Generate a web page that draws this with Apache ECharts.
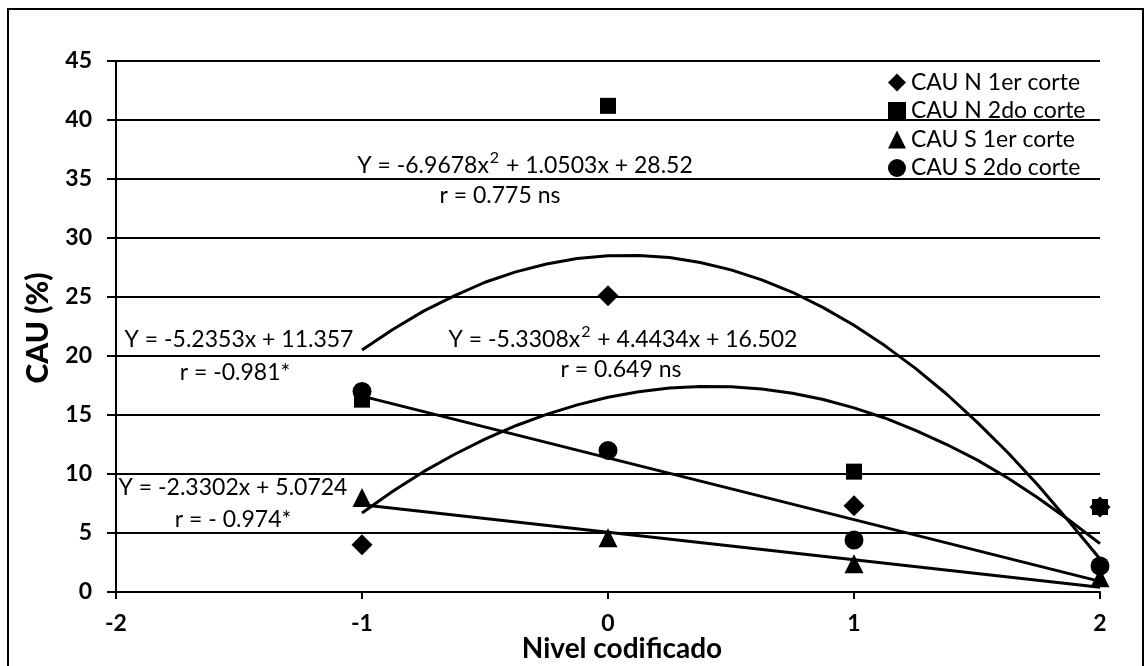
<!DOCTYPE html>
<html>
<head>
<meta charset="utf-8">
<script src="https://cdn.jsdelivr.net/npm/echarts@6/dist/echarts.min.js"></script>
<style>
html,body{margin:0;padding:0;background:#fff;}
#chart{width:1148px;height:666px;}
</style>
</head>
<body>
<div id="chart"></div>
<script>
// ---- data ----
const xLevels = [-1, 0, 1, 2];
const cauN1 = [4.0, 25.1, 7.3, 7.2];
const cauN2 = [16.3, 41.2, 10.2, 7.2];
const cauS1 = [8.0, 4.6, 2.4, 1.2];
const cauS2 = [17.0, 12.0, 4.4, 2.2];
const seriesNames = ['CAU N 1er corte', 'CAU N 2do corte', 'CAU S 1er corte', 'CAU S 2do corte'];

// trend curves (x from -1 to 2)
const curveX = [-1, -0.875, -0.75, -0.625, -0.5, -0.375, -0.25, -0.125, 0, 0.125, 0.25, 0.375, 0.5,
                0.625, 0.75, 0.875, 1, 1.125, 1.25, 1.375, 1.5, 1.625, 1.75, 1.875, 2];
const quadA = [20.5, 22.25, 23.8, 25.1, 26.25, 27.13, 27.8, 28.26, 28.5, 28.52, 28.35, 27.93, 27.3,
               26.45, 25.4, 24.1, 22.6, 20.88, 18.95, 16.8, 14.4, 11.82, 9.0, 5.96, 2.8];
const quadB = [6.7, 8.53, 10.2, 11.65, 12.95, 14.09, 15.05, 15.86, 16.5, 16.97, 17.28, 17.42, 17.39,
               17.21, 16.85, 16.31, 15.6, 14.75, 13.7, 12.52, 11.2, 9.66, 7.95, 6.08, 4.1];
const lineX = [-1, 2];
const linA = [16.6, 0.9];
const linB = [7.4, 0.4];

const eqTexts = [
  '{a|Y = -6.9678x}{s|2}{a| + 1.0503x + 28.52}', 'r = 0.775 ns',
  'Y = -5.2353x + 11.357', 'r = -0.981*',
  '{a|Y = -5.3308x}{s|2}{a| + 4.4434x + 16.502}', 'r = 0.649 ns',
  'Y = -2.3302x + 5.0724', 'r = - 0.974*'
];
const xTicks = [-2, -1, 0, 1, 2];

const FONT = 'Lato, "Open Sans", sans-serif';
const pair = (xs, ys) => xs.map((x, i) => [x, ys[i]]);

const chart = echarts.init(document.getElementById('chart'), null, {renderer: 'canvas'});

const scatterStyle = {color: '#000', opacity: 1};
const lineStyle = {color: '#000', width: 3, opacity: 1};

function eqText(t, x, y) {
  return {type: 'text', z: 10, style: {text: t, x: x, y: y, align: 'center', verticalAlign: 'middle',
    font: '23px ' + FONT, fill: '#000',
    rich: {
      a: {fontSize: 23, fontFamily: FONT, lineHeight: 28, fill: '#000', verticalAlign: 'bottom'},
      s: {fontSize: 16, fontFamily: FONT, lineHeight: 28, fill: '#000', verticalAlign: 'top', padding: [1, 1, 0, 1]}
    }}};
}

chart.setOption({
  animation: false,
  backgroundColor: '#fff',
  grid: {left: 116, right: 48, top: 61, bottom: 74, containLabel: false},
  xAxis: {
    type: 'value', min: xTicks[0], max: xTicks[xTicks.length - 1], interval: 1,
    axisLine: {onZero: false, lineStyle: {color: '#000', width: 2}},
    axisTick: {show: true, inside: false, length: 7, lineStyle: {color: '#000', width: 2}},
    axisLabel: {color: '#000', fontFamily: FONT, fontWeight: 'bold', fontSize: 23, margin: 20},
    splitLine: {show: false}
  },
  yAxis: {
    type: 'value', min: 0, max: 45, interval: 5,
    axisLine: {show: true, onZero: false, lineStyle: {color: '#000', width: 2}},
    axisTick: {show: true, inside: false, length: 9, lineStyle: {color: '#000', width: 2}},
    axisLabel: {color: '#000', fontFamily: FONT, fontWeight: 'bold', fontSize: 23, margin: 24},
    splitLine: {show: true, lineStyle: {color: '#000', width: 2}}
  },
  legend: {
    data: seriesNames,
    orient: 'vertical', left: 883, top: 66,
    itemWidth: 18, itemHeight: 18, itemGap: 5.5,
    textStyle: {color: '#000', fontFamily: FONT, fontSize: 23},
    backgroundColor: 'transparent'
  },
  series: [
    {name: seriesNames[0], type: 'scatter', symbol: 'diamond', symbolSize: 21, itemStyle: scatterStyle, data: pair(xLevels, cauN1), z: 5},
    {name: seriesNames[1], type: 'scatter', symbol: 'rect', symbolSize: 16, itemStyle: scatterStyle, data: pair(xLevels, cauN2), z: 5},
    {name: seriesNames[2], type: 'scatter', symbol: 'triangle', symbolSize: 19, itemStyle: scatterStyle, data: pair(xLevels, cauS1), z: 5},
    {name: seriesNames[3], type: 'scatter', symbol: 'circle', symbolSize: 19, itemStyle: scatterStyle, data: pair(xLevels, cauS2), z: 5},
    {type: 'line', data: pair(curveX, quadA), smooth: false, showSymbol: false, lineStyle: lineStyle, z: 4},
    {type: 'line', data: pair(curveX, quadB), smooth: false, showSymbol: false, lineStyle: lineStyle, z: 4},
    {type: 'line', data: pair(lineX, linA), showSymbol: false, lineStyle: lineStyle, z: 4},
    {type: 'line', data: pair(lineX, linB), showSymbol: false, lineStyle: lineStyle, z: 4}
  ],
  graphic: [
    {type: 'rect', z: 0, shape: {x: 8, y: 9, width: 1135, height: 670}, style: {fill: 'none', stroke: '#000', lineWidth: 2}},
    {type: 'text', z: 10, rotation: Math.PI / 2, x: 38, y: 328,
      style: {text: 'CAU (%)', x: 0, y: 0, align: 'center', verticalAlign: 'middle', font: '900 30px ' + FONT, fill: '#000'}},
    {type: 'text', z: 10, style: {text: 'Nivel codificado', x: 622, y: 649, align: 'center', verticalAlign: 'middle', font: 'bold 28px ' + FONT, fill: '#000'}},
    eqText(eqTexts[0], 525, 163),
    eqText(eqTexts[1], 500, 196),
    eqText(eqTexts[2], 239, 340),
    eqText(eqTexts[3], 235, 373),
    eqText(eqTexts[4], 623, 337),
    eqText(eqTexts[5], 621, 370),
    eqText(eqTexts[6], 233, 488),
    eqText(eqTexts[7], 233, 520)
  ]
});
</script>
</body>
</html>
